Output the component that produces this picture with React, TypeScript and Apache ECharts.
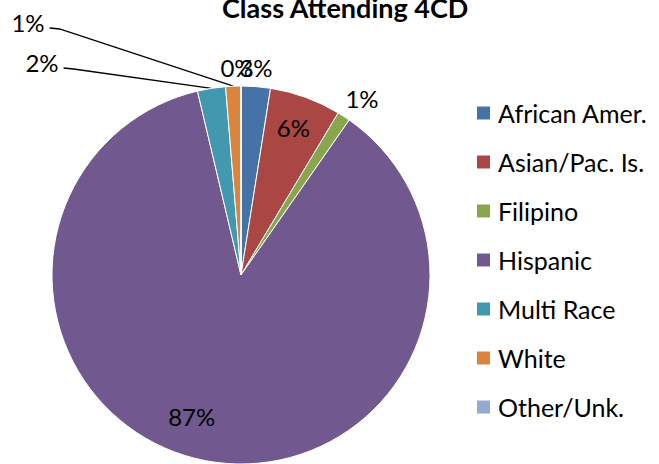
import React, { useEffect, useRef } from "react";
import * as echarts from "echarts";

// Share of students (%) by group
const categories = [
  "African Amer.",
  "Asian/Pac. Is.",
  "Filipino",
  "Hispanic",
  "Multi Race",
  "White",
  "Other/Unk.",
];
const shares = [2.5, 6.1, 1.1, 86.6, 2.4, 1.3, 0];
const colors = ["#4572A7", "#AA4643", "#89A54E", "#71588F", "#4198AF", "#DB843D", "#93A9CF"];
const titleText = "Class Attending 4CD";

const FONT = "Lato, 'Liberation Sans', sans-serif";

export default function App() {
  const ref = useRef<HTMLDivElement>(null);

  useEffect(() => {
    if (!ref.current) return;
    const chart = echarts.init(ref.current, undefined, { renderer: "svg" });

    const insideIdx = [1, 3];
    const leaderIdx = [4, 5];

    const data = categories.map((name, i) => ({
      name,
      value: shares[i],
      itemStyle: { color: colors[i] },
      label: insideIdx.includes(i) ? { position: "inside" } : { position: "outside" },
      labelLine: { show: leaderIdx.includes(i) },
    }));

    // label placement (layout/style, not data)
    const outsidePos: Record<number, [number, number]> = {
      0: [256, 67],
      2: [362, 98],
      4: [42, 62],
      5: [28, 22],
      6: [237, 67],
    };
    const insideShift: Record<number, [number, number]> = {
      1: [19, -56],
      3: [-31, 46],
    };

    chart.setOption({
      animation: false,
      title: {
        text: titleText,
        left: 222,
        top: -6,
        padding: 0,
        textStyle: { fontFamily: FONT, fontSize: 27, fontWeight: "bold", color: "#000" },
      },
      legend: {
        orient: "vertical",
        left: 475,
        top: 98,
        padding: 0,
        icon: "rect",
        itemWidth: 15,
        itemHeight: 15,
        itemGap: 19,
        selectedMode: false,
        data: categories,
        textStyle: {
          fontFamily: FONT,
          fontSize: 25,
          lineHeight: 30,
          color: "#000",
          padding: [0, 0, 0, 2],
        },
      },
      series: [
        {
          type: "pie",
          center: [241, 275],
          radius: 189,
          startAngle: 90,
          clockwise: true,
          avoidLabelOverlap: false,
          silent: true,
          emphasis: { disabled: true },
          itemStyle: { borderColor: "#fff", borderWidth: 1 },
          label: {
            show: true,
            fontFamily: FONT,
            fontSize: 24,
            color: "#000",
            formatter: (p: any) => Math.round(p.value) + "%",
          },
          labelLine: {
            length: 6,
            length2: 6,
            lineStyle: { color: "#000", width: 1.3 },
          },
          labelLayout: (params: any) => {
            const i = params.dataIndex;
            if (insideShift[i]) {
              return { dx: insideShift[i][0], dy: insideShift[i][1] };
            }
            const pos = outsidePos[i];
            if (!pos) return {};
            const out: any = { x: pos[0], y: pos[1], align: "center", verticalAlign: "middle" };
            if (leaderIdx.includes(i) && params.labelLinePoints) {
              const start = params.labelLinePoints[0];
              const halfW = params.labelRect ? params.labelRect.width / 2 : 15;
              const end = [pos[0] + halfW + 5, pos[1] + 6];
              const elbow = [end[0] + 10, end[1] + 1];
              out.labelLinePoints = [start, elbow, end];
            }
            return out;
          },
          data,
        },
      ],
    });

    return () => chart.dispose();
  }, []);

  return (
    <div
      ref={ref}
      style={{ position: "fixed", left: 0, top: 0, width: 659, height: 464, background: "#fff" }}
    />
  );
}
